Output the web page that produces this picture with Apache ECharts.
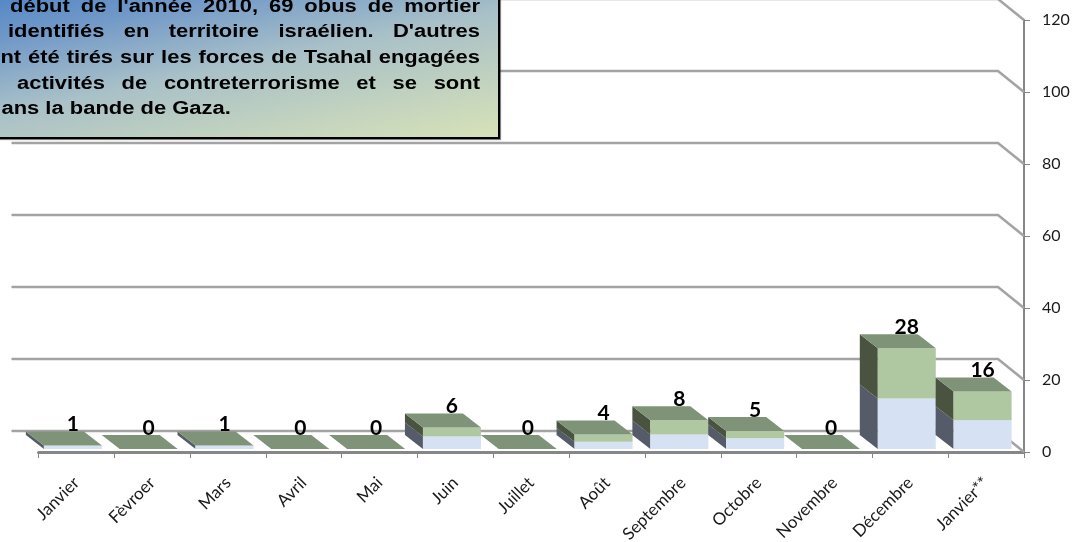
<!DOCTYPE html>
<html>
<head>
<meta charset="utf-8">
<style>
  html, body { margin: 0; padding: 0; background: #fff; }
  #chart { width: 1075px; height: 542px; overflow: hidden; }
</style>
<script src="https://cdn.jsdelivr.net/npm/echarts@6/dist/echarts.min.js"></script>
</head>
<body>
<div id="chart"></div>
<script>
const months = ['Janvier', 'Fèvroer', 'Mars', 'Avril', 'Mai', 'Juin', 'Juillet', 'Août', 'Septembre', 'Octobre', 'Novembre', 'Décembre', 'Janvier**'];
const lowerValues = [1, 0, 1, 0, 0, 3.5, 0, 2, 4, 3, 0, 14, 8];
const upperValues = [0, 0, 0, 0, 0, 2.5, 0, 2, 4, 2, 0, 14, 8];
const yTicks = [0, 20, 40, 60, 80, 100, 120];

// lines of the note: the words, where the first fully visible word starts, justified or not
const noteLines = [
  { clipped: 'le', words: ['début', 'de', "l'année", '2010,', '69', 'obus', 'de', 'mortier'], left: 10, y: 7, justify: true },
  { clipped: '', words: ['identifiés', 'en', 'territoire', 'israélien.', "D'autres"], left: 8, y: 32, justify: true },
  { clipped: '', words: ['ont', 'été', 'tirés', 'sur', 'les', 'forces', 'de', 'Tsahal', 'engagées'], left: -13, y: 58, justify: true },
  { clipped: 'des', words: ['activités', 'de', 'contreterrorisme', 'et', 'se', 'sont'], left: 17, y: 84, justify: true },
  { clipped: '', words: ['dans', 'la', 'bande', 'de', 'Gaza.'], left: -12, y: 109, justify: false }
];

// the note text in the picture is stretched sideways
const noteFont = 'bold 18px "Liberation Sans"';
const noteStretch = 1.22;
const noteRight = 480;
const measureCtx = document.createElement('canvas').getContext('2d');
measureCtx.font = noteFont;

function noteWord(text, x, y, align) {
  return {
    type: 'text', z: 101, x: x, y: y, scaleX: noteStretch,
    style: { text: text, font: noteFont, fill: '#000', textAlign: align, textVerticalAlign: 'middle' }
  };
}

function noteGraphics() {
  const out = [];
  noteLines.forEach(line => {
    const widths = line.words.map(w => measureCtx.measureText(w).width * noteStretch);
    const total = widths.reduce((a, b) => a + b, 0);
    const space = measureCtx.measureText(' ').width * noteStretch;
    const gap = line.justify ? (noteRight - line.left - total) / (line.words.length - 1) : space;
    if (line.clipped) {
      out.push(noteWord(line.clipped, line.left - gap, line.y, 'right'));
    }
    let x = line.left;
    line.words.forEach((w, i) => {
      out.push(noteWord(w, x, line.y, 'left'));
      x += widths[i] + gap;
    });
  });
  return out;
}

function renderGridLine(params, api) {
  const cs = params.coordSys;
  const y = api.coord([0, api.value(0)])[1];
  const right = cs.x + cs.width;
  return {
    type: 'polyline',
    shape: { points: [[cs.x - 27, y - 21], [right - 26, y - 21], [right, y]] },
    style: { stroke: '#a3a3a3', lineWidth: 2.5, fill: null }
  };
}

function poly(points, fill) {
  return { type: 'polygon', shape: { points: points }, style: { fill: fill } };
}

function renderBar(params, api) {
  const idx = api.value(0);
  const low = api.value(1);
  const up = api.value(2);
  const center = api.coord([idx, 0])[0] - 3.5;
  const base = api.coord([idx, 0])[1] - 3;
  const unit = api.size([0, 1])[1];
  const w = 58, dx = -18, dy = -14;
  const xl = center - w / 2, xr = center + w / 2;
  const yLow = base - low * unit;
  const yTop = yLow - up * unit;
  const children = [];
  if (low > 0) {
    children.push(poly([[xl, base], [xl, yLow], [xl + dx, yLow + dy], [xl + dx, base + dy]], '#555b68'));
    children.push({ type: 'rect', shape: { x: xl, y: yLow, width: w, height: base - yLow }, style: { fill: '#d6e1f4' } });
  }
  if (up > 0) {
    children.push(poly([[xl, yLow], [xl, yTop], [xl + dx, yTop + dy], [xl + dx, yLow + dy]], '#4a5340'));
    children.push({ type: 'rect', shape: { x: xl, y: yTop, width: w, height: yLow - yTop }, style: { fill: '#b0c8a2' } });
  }
  children.push(poly([[xl, yTop], [xr, yTop], [xr + dx, yTop + dy], [xl + dx, yTop + dy]], '#7f9378'));
  children.push({
    type: 'text',
    x: center,
    y: yTop + dy - 7,
    style: {
      text: String(low + up),
      font: 'bold 21px Lato',
      fill: '#000',
      textAlign: 'center',
      textVerticalAlign: 'middle'
    }
  });
  return { type: 'group', children: children };
}

const chart = echarts.init(document.getElementById('chart'));
chart.setOption({
  animation: false,
  backgroundColor: '#fff',
  grid: { left: 38.5, right: 51, top: 20, bottom: 90, outerBoundsMode: 'none' },
  xAxis: {
    type: 'category',
    data: months,
    axisLine: { lineStyle: { color: '#868686', width: 3 } },
    axisTick: { show: true, length: 6, lineStyle: { color: '#868686', width: 1 } },
    axisLabel: { rotate: 45, interval: 0, margin: 28, color: '#1a1a1a', fontFamily: 'Lato', fontSize: 17 }
  },
  yAxis: {
    type: 'value',
    position: 'right',
    min: 0,
    max: 120,
    interval: 20,
    splitLine: { show: false },
    axisLine: { show: true, lineStyle: { color: '#868686', width: 2 } },
    axisTick: { show: true, length: 6, lineStyle: { color: '#868686', width: 1 } },
    axisLabel: { margin: 18, color: '#1a1a1a', fontFamily: 'Lato', fontSize: 16 }
  },
  series: [
    {
      type: 'custom',
      name: 'grid',
      z: 1,
      renderItem: renderGridLine,
      encode: { y: 0 },
      data: yTicks.map(v => [v])
    },
    {
      type: 'custom',
      name: 'obus',
      z: 2,
      renderItem: renderBar,
      encode: { x: 0, y: [1, 2] },
      data: months.map((m, i) => [i, lowerValues[i], upperValues[i]])
    }
  ],
  graphic: [
    {
      type: 'rect',
      z: 100,
      shape: { x: -60, y: -60, width: 559, height: 198 },
      style: {
        fill: new echarts.graphic.LinearGradient(0, -10, 48, 225, [
          { offset: 0, color: '#4f85c5' },
          { offset: 0.2, color: '#7098c8' },
          { offset: 0.5, color: '#a8c0c8' },
          { offset: 1, color: '#d6e1b8' }
        ], true),
        stroke: '#000',
        lineWidth: 2,
        shadowColor: 'rgba(0,0,0,0.5)',
        shadowBlur: 1,
        shadowOffsetX: 1,
        shadowOffsetY: 1
      }
    }
  ].concat(noteGraphics())
});
</script>
</body>
</html>
